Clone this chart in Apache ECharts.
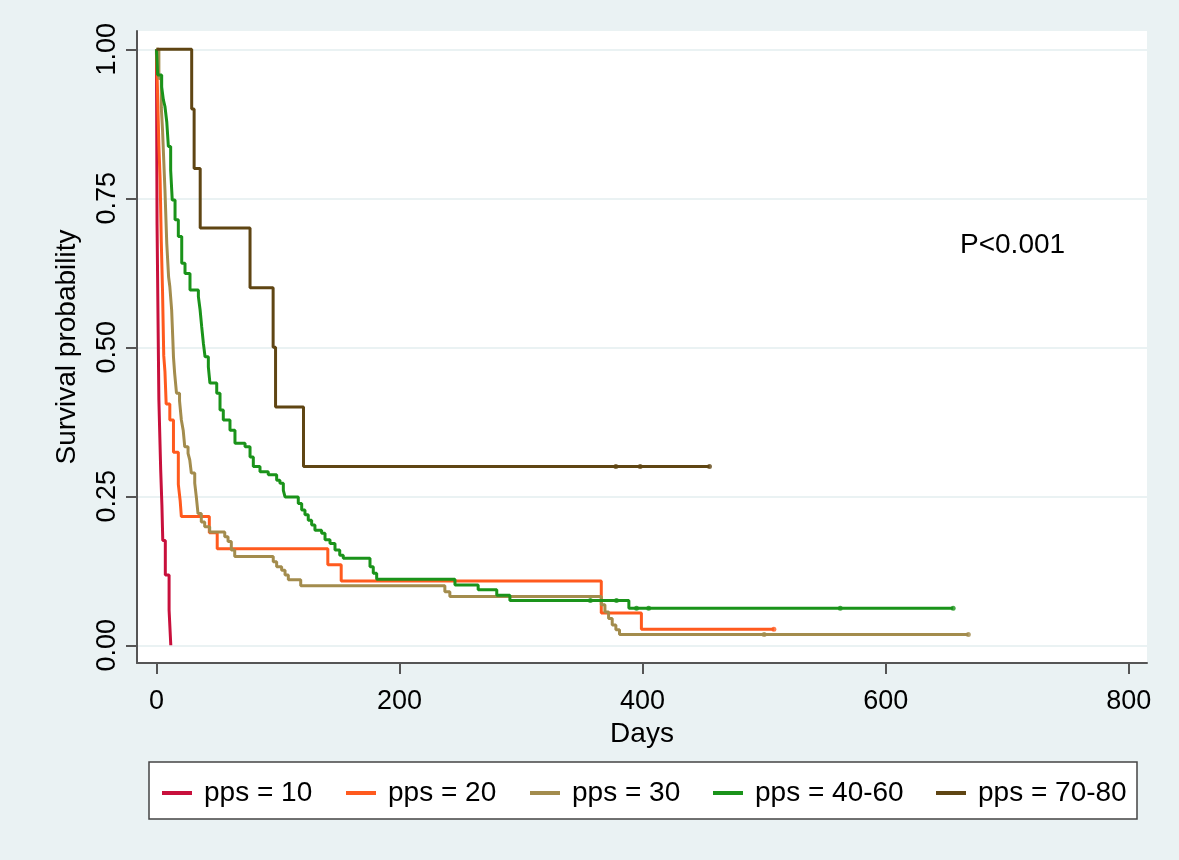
<!DOCTYPE html>
<html><head><meta charset="utf-8">
<script src="https://cdn.jsdelivr.net/npm/echarts@6/dist/echarts.min.js"></script>
<style>html,body{margin:0;padding:0;background:#eaf2f3;} #c{width:1179px;height:860px;}</style>
</head><body><div id="c"></div>
<script>
const seriesNames = ['pps = 10', 'pps = 20', 'pps = 30', 'pps = 40-60', 'pps = 70-80'];
const colors = ['#c8103c', '#ff5a1e', '#a38c4d', '#1a931a', '#5f4513'];
const xTicks = [0, 200, 400, 600, 800];
const yTicks = [0, 0.25, 0.5, 0.75, 1];
const pValueText = 'P<0.001';

// [day, survival after event]
const pps10 = [[0,1],[0.5,0.706],[2,0.412],[3.5,0.294],[4.5,0.235],[5.2,0.176],[7.3,0.118],[10.4,0.059],[11.8,0]];
const pps20 = [[0,1],[1,0.919],[2,0.838],[3,0.784],[4,0.676],[5,0.595],[6,0.486],[7,0.459],[8,0.405],[11,0.378],[14,0.324],[18,0.270],[19.5,0.243],[20.5,0.216],[43.5,0.189],[50,0.162],[141,0.135],[152,0.108],[366,0.054],[399,0.027],[508,0.027]];
const pps30 = [[0,1],[2,0.951],[4,0.902],[5,0.865],[6,0.814],[7,0.764],[8.5,0.674],[10,0.618],[11,0.602],[12.5,0.563],[13.5,0.512],[14,0.484],[15,0.456],[16.5,0.423],[19,0.41],[20.5,0.378],[22,0.361],[23.3,0.333],[26,0.322],[27.4,0.311],[28.7,0.289],[31.5,0.272],[32.8,0.249],[34.2,0.221],[36.9,0.207],[39.7,0.199],[43.8,0.19],[56.2,0.182],[58.9,0.174],[61.6,0.16],[64.4,0.149],[96.1,0.14],[98.9,0.132],[103,0.126],[105.8,0.118],[108.5,0.11],[118.7,0.10],[237.3,0.09],[241.4,0.082],[366,0.068],[369,0.056],[372,0.045],[375,0.034],[378,0.026],[381,0.018],[668,0.018]];
const pps4060 = [[0,1],[1,0.957],[4.3,0.937],[5.7,0.915],[7,0.904],[8.5,0.878],[9.8,0.837],[11.7,0.797],[13,0.747],[15.3,0.714],[18,0.686],[20.8,0.641],[23.5,0.624],[27.6,0.596],[34.5,0.585],[35.9,0.563],[37.2,0.535],[38.6,0.507],[40,0.484],[42.7,0.467],[44,0.44],[49.6,0.423],[52.3,0.395],[55,0.378],[60.5,0.361],[64.6,0.339],[72.9,0.333],[77,0.316],[79.7,0.30],[85.2,0.291],[92,0.286],[98.9,0.277],[101.6,0.272],[104.4,0.26],[105.8,0.249],[116.7,0.238],[119.5,0.227],[122.2,0.219],[124.9,0.21],[127.7,0.202],[130.4,0.193],[135.9,0.188],[138.7,0.177],[142.8,0.171],[146.9,0.16],[150.8,0.151],[153.7,0.146],[175.7,0.132],[178.4,0.121],[181.2,0.111],[245.6,0.101],[264.7,0.093],[280,0.084],[290.8,0.075],[388.7,0.062],[655.5,0.062]];
const pps7080 = [[0,1],[29,0.9],[31,0.8],[36,0.7],[77,0.6],[96,0.5],[98,0.4],[121,0.3],[455,0.3]];

// censored observations
const cens20 = [[508,0.027]];
const cens30 = [[500,0.018],[668,0.018]];
const cens4060 = [[357,0.075],[378.5,0.075],[395,0.062],[405,0.062],[562.6,0.062],[655.5,0.062]];
const cens7080 = [[378,0.3],[398,0.3],[455,0.3]];

const curves = [pps10, pps20, pps30, pps4060, pps7080];
const censors = [[], cens20, cens30, cens4060, cens7080];

const FONT = "'Liberation Sans', Arial, sans-serif";
const chart = echarts.init(document.getElementById('c'), null, {renderer: 'canvas'});

const series = [];
curves.forEach((d, i) => {
  series.push({
    name: seriesNames[i], type: 'line', step: 'end', data: d,
    showSymbol: false, symbol: 'none', animation: false,
    lineStyle: {color: colors[i], width: 3}, itemStyle: {color: colors[i]}
  });
});
censors.forEach((d, i) => {
  if (!d.length) return;
  series.push({
    name: 'cens' + i, type: 'scatter', data: d, symbol: 'circle', symbolSize: 5,
    itemStyle: {color: colors[i]}, animation: false, silent: true
  });
});

const legendLefts = [162, 346, 530, 713, 936];
const legends = seriesNames.map((n, i) => ({
  data: [n], left: legendLefts[i], top: 778, padding: 0,
  icon: 'rect', itemWidth: 30, itemHeight: 4, itemGap: 0,
  textStyle: {fontFamily: FONT, fontSize: 28, color: '#000', padding: [0,0,0,7], lineHeight: 30},
  selectedMode: false
}));

chart.setOption({
  backgroundColor: '#eaf2f3',
  animation: false,
  grid: {left: 137, right: 32, top: 31, bottom: 197, show: true, backgroundColor: '#ffffff', borderWidth: 0},
  xAxis: {
    type: 'value', min: -16, max: 815,
    name: 'Days', nameLocation: 'middle', nameGap: 56,
    nameTextStyle: {fontFamily: FONT, fontSize: 28, color: '#000'},
    axisLine: {show: true, onZero: false, lineStyle: {color: '#555', width: 2}},
    axisTick: {show: true, length: 11, lineStyle: {color: '#555', width: 2}, customValues: xTicks},
    axisLabel: {fontFamily: FONT, fontSize: 27, color: '#000', margin: 25, customValues: xTicks},
    splitLine: {show: false}
  },
  yAxis: {
    type: 'value', min: -0.0297, max: 1.0307,
    name: 'Survival probability', nameLocation: 'middle', nameGap: 56,
    nameTextStyle: {fontFamily: FONT, fontSize: 28, color: '#000'},
    axisLine: {show: true, onZero: false, lineStyle: {color: '#555', width: 2}},
    axisTick: {show: true, length: 11, lineStyle: {color: '#555', width: 2}, customValues: yTicks},
    axisLabel: {fontFamily: FONT, fontSize: 27, color: '#000', margin: 16, rotate: 90,
      customValues: yTicks, formatter: v => v.toFixed(2)},
    splitLine: {show: true, lineStyle: {color: '#eaf2f3', width: 2}}
  },
  legend: legends,
  graphic: [
    {type: 'rect', shape: {x: 149, y: 762, width: 988, height: 57}, style: {fill: '#fff', stroke: '#444', lineWidth: 1.5}, z: 0},
    {type: 'text', x: 960, y: 245, style: {text: pValueText, fontFamily: FONT, fontSize: 28, fill: '#000', textVerticalAlign: 'middle'}, z: 10}
  ],
  series: series
});
</script></body></html>
